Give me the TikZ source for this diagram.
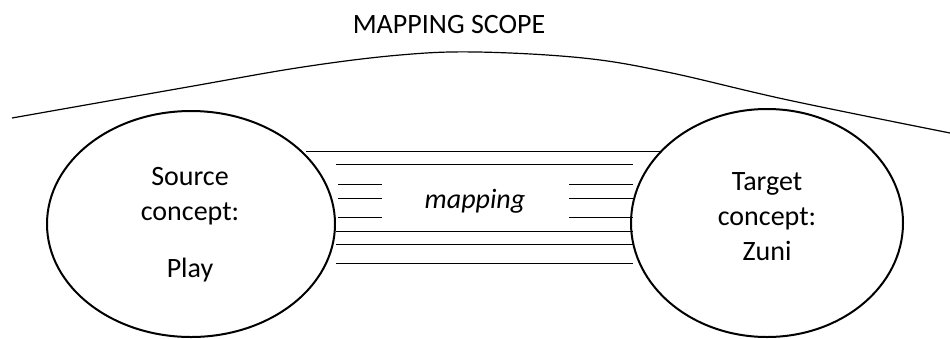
\documentclass[tikz,border=0pt]{standalone}
\usepackage{fontspec}
\setmainfont{Carlito}
\usetikzlibrary{shapes.geometric}

\begin{document}
\begin{tikzpicture}[x=1pt, y=-1pt,
    concept/.style={draw, ellipse, line width=2pt, inner sep=0pt},
    words/.style={font=\fontsize{28}{35}\selectfont, align=center, anchor=base, inner sep=0pt},
    hatch/.style={line width=1pt}]
        \useasboundingbox (0,0) rectangle (950,338);
        \node[concept, minimum width=288, minimum height=226] at (191,224) (source) {};
        \node[concept, minimum width=272, minimum height=228] at (767,223) (target) {};
        \node[words] at (190,277) (sourcetext) {Source\\concept:\\[22pt]Play};
        \node[words] at (767,260) (targettext) {Target\\concept:\\Zuni};
        \node[words] at (449,33) (scope) {MAPPING SCOPE};
        \node[words, font=\fontsize{28}{35}\selectfont\itshape] at (475,208) (map) {mapping};
        \draw[line width=1.2pt] plot[smooth, tension=0.6] coordinates {(12,118) (182,88) (303,67) (400,55) (477,52) (583,58) (667,72) (788,100) (950,133)};
        \draw[hatch] (306,151) -- (662,151);
        \draw[hatch] (336,164) -- (633,164);
        \foreach \y in {184,198,217} {
            \draw[hatch] (338,\y) -- (382,\y);
            \draw[hatch] (569,\y) -- (633,\y);
        }
        \foreach \y in {231,244,263}
            \draw[hatch] (336,\y) -- (633,\y);
\end{tikzpicture}
\end{document}
